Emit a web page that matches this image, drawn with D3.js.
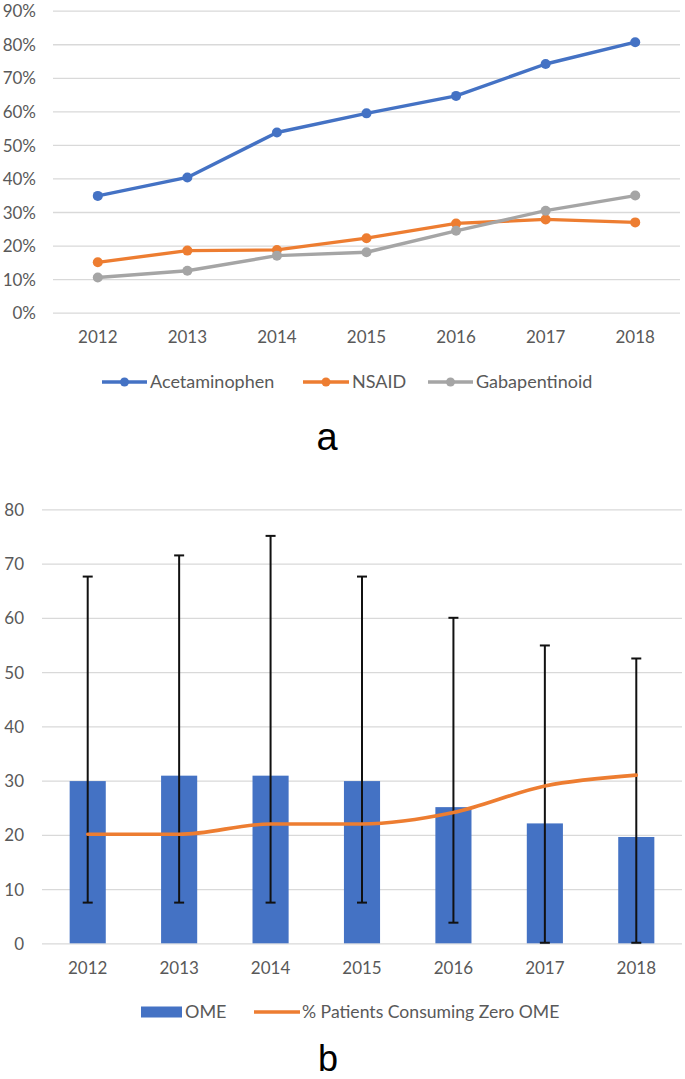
<!DOCTYPE html>
<html>
<head>
<meta charset="utf-8">
<script src="https://cdn.jsdelivr.net/npm/d3@7/dist/d3.min.js"></script>
<style>
  html, body { margin: 0; padding: 0; background: #fff; }
  svg { display: block; }
  text { font-family: Lato, "Open Sans", sans-serif; fill: #595959; }
</style>
</head>
<body>
<svg id="chart" width="685" height="1079"></svg>
<script>
// ---------- DATA ----------
const years = ["2012", "2013", "2014", "2015", "2016", "2017", "2018"];

// Panel a (fractions)
const acetaminophen = [0.348, 0.403, 0.537, 0.594, 0.646, 0.741, 0.806];
const nsaid         = [0.150, 0.185, 0.187, 0.222, 0.266, 0.278, 0.269];
const gabapentinoid = [0.105, 0.125, 0.170, 0.180, 0.244, 0.304, 0.349];
const pctTicks = [0, 0.1, 0.2, 0.3, 0.4, 0.5, 0.6, 0.7, 0.8, 0.9];

// Panel b
const omeMean  = [29.9, 30.9, 30.9, 29.9, 25.1, 22.1, 19.6];
const omeUpper = [67.6, 71.5, 75.1, 67.6, 60.0, 54.9, 52.5];
const omeLower = [7.5, 7.5, 7.5, 7.5, 3.8, 0.1, 0.1];
const pctZeroOme = [20.1, 20.1, 22.0, 22.0, 24.1, 29.0, 31.0];
const omeTicks = [0, 10, 20, 30, 40, 50, 60, 70, 80];

const seriesA = [
  { name: "Acetaminophen", values: acetaminophen, color: "#4472C4" },
  { name: "NSAID",         values: nsaid,         color: "#ED7D31" },
  { name: "Gabapentinoid", values: gabapentinoid, color: "#A5A5A5" }
];

// ---------- PANEL A ----------
const svg = d3.select("#chart");
const A = { left: 53, right: 680, top: 10.67, bottom: 312.67 };

const xA = d3.scaleBand().domain(years).range([A.left, A.right]).padding(0);
const yA = d3.scaleLinear().domain([0, 0.9]).range([A.bottom, A.top]);
const cxA = d => xA(d) + xA.bandwidth() / 2;

const gA = svg.append("g");

const yAxisA = d3.axisLeft(yA).tickValues(pctTicks).tickFormat(d3.format(".0%"))
  .tickSizeInner(-(A.right - A.left)).tickSizeOuter(0).tickPadding(17);
gA.append("g").attr("transform", `translate(${A.left},0)`).call(yAxisA)
  .call(g => g.select(".domain").remove())
  .call(g => g.selectAll(".tick line").attr("stroke", "#D9D9D9").attr("stroke-width", 1.3))
  .call(g => g.selectAll(".tick text").style("font-size", "17px").attr("fill", "#595959").attr("dy", "0.36em"));

const xAxisA = d3.axisBottom(xA).tickSize(0).tickPadding(18);
gA.append("g").attr("transform", `translate(0,${A.bottom})`).call(xAxisA)
  .call(g => g.select(".domain").remove())
  .call(g => g.selectAll(".tick text").style("font-size", "17px").attr("fill", "#595959"));

const lineA = d3.line().x((v, i) => cxA(years[i])).y(v => yA(v));
seriesA.forEach(s => {
  gA.append("path").datum(s.values).attr("d", lineA)
    .attr("fill", "none").attr("stroke", s.color).attr("stroke-width", 3.4)
    .attr("stroke-linejoin", "round");
  gA.selectAll(null).data(s.values).enter().append("circle")
    .attr("cx", (v, i) => cxA(years[i])).attr("cy", v => yA(v)).attr("r", 5)
    .attr("fill", s.color);
});

// Legend A
const legA = [
  { x0: 102, x1: 147, tx: 150 },
  { x0: 303, x1: 349, tx: 352 },
  { x0: 428, x1: 473, tx: 476 }
];
const legAy = 382;
seriesA.forEach((s, i) => {
  const L = legA[i];
  gA.append("line").attr("x1", L.x0).attr("x2", L.x1).attr("y1", legAy).attr("y2", legAy)
    .attr("stroke", s.color).attr("stroke-width", 3.4);
  gA.append("circle").attr("cx", (L.x0 + L.x1) / 2).attr("cy", legAy).attr("r", 4.5).attr("fill", s.color);
  gA.append("text").attr("x", L.tx).attr("y", legAy).attr("dy", "0.36em")
    .style("font-size", "18px").text(s.name);
});

svg.append("text").attr("x", 327).attr("y", 450).attr("text-anchor", "middle")
  .style("font-family", "'Liberation Sans', Arial, sans-serif").style("font-size", "38px")
  .style("fill", "#000").text("a");

// ---------- PANEL B ----------
const B = { left: 42, right: 682, top: 509.3, bottom: 943.3 };
const xB = d3.scaleBand().domain(years).range([B.left, B.right]).padding(0);
const yB = d3.scaleLinear().domain([0, 80]).range([B.bottom, B.top]);
const cxB = d => xB(d) + xB.bandwidth() / 2;
const barW = xB.bandwidth() * 0.395;

const gB = svg.append("g");
const yAxisB = d3.axisLeft(yB).tickValues(omeTicks)
  .tickSizeInner(-(B.right - B.left)).tickSizeOuter(0).tickPadding(18);
gB.append("g").attr("transform", `translate(${B.left},0)`).call(yAxisB)
  .call(g => g.select(".domain").remove())
  .call(g => g.selectAll(".tick line").attr("stroke", "#D9D9D9").attr("stroke-width", 1.3))
  .call(g => g.selectAll(".tick text").style("font-size", "17px").attr("fill", "#595959").attr("dy", "0.36em"));

const xAxisB = d3.axisBottom(xB).tickSize(0).tickPadding(19);
gB.append("g").attr("transform", `translate(0,${B.bottom})`).call(xAxisB)
  .call(g => g.select(".domain").remove())
  .call(g => g.selectAll(".tick text").style("font-size", "17px").attr("fill", "#595959"));

gB.selectAll("rect.bar").data(omeMean).enter().append("rect").attr("class", "bar")
  .attr("x", (v, i) => cxB(years[i]) - barW / 2).attr("width", barW)
  .attr("y", v => yB(v)).attr("height", v => yB(0) - yB(v))
  .attr("fill", "#4472C4");

// error bars
const capW = 10;
years.forEach((yr, i) => {
  const cx = cxB(yr);
  gB.append("line").attr("x1", cx).attr("x2", cx)
    .attr("y1", yB(omeUpper[i])).attr("y2", yB(omeLower[i]))
    .attr("stroke", "#111").attr("stroke-width", 2);
  [omeUpper[i], omeLower[i]].forEach(v => {
    gB.append("line").attr("x1", cx - capW / 2).attr("x2", cx + capW / 2)
      .attr("y1", yB(v)).attr("y2", yB(v)).attr("stroke", "#111").attr("stroke-width", 2);
  });
});

const lineB = d3.line().x((v, i) => cxB(years[i])).y(v => yB(v)).curve(d3.curveMonotoneX);
gB.append("path").datum(pctZeroOme).attr("d", lineB)
  .attr("fill", "none").attr("stroke", "#ED7D31").attr("stroke-width", 3.6).attr("stroke-linecap", "round");

// Legend B
const legBy = 1012;
gB.append("rect").attr("x", 141).attr("y", legBy - 5.5).attr("width", 41).attr("height", 11).attr("fill", "#4472C4");
gB.append("text").attr("x", 185).attr("y", legBy).attr("dy", "0.36em").style("font-size", "18px").text("OME");
gB.append("line").attr("x1", 254).attr("x2", 300).attr("y1", legBy).attr("y2", legBy)
  .attr("stroke", "#ED7D31").attr("stroke-width", 3.6);
gB.append("text").attr("x", 302).attr("y", legBy).attr("dy", "0.36em").style("font-size", "17.6px")
  .text("% Patients Consuming Zero OME");

svg.append("text").attr("x", 328).attr("y", 1071).attr("text-anchor", "middle")
  .style("font-family", "'Liberation Sans', Arial, sans-serif").style("font-size", "36px")
  .style("fill", "#000").text("b");
</script>
</body>
</html>
